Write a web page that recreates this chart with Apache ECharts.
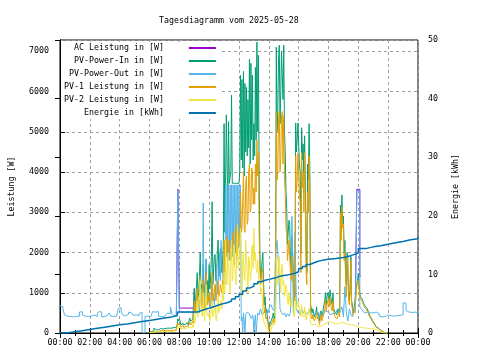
<!DOCTYPE html>
<html><head><meta charset="utf-8">
<script src="https://cdn.jsdelivr.net/npm/echarts@6/dist/echarts.min.js"></script>
<style>html,body{margin:0;padding:0;background:#fff}#c{width:480px;height:360px}</style>
</head><body><div id="c"></div>
<script>
// ---- data ----
const titleText = 'Tagesdiagramm vom 2025-05-28';
const seriesNames = ['AC Leistung in [W]','PV-Power-In in [W]','PV-Power-Out in [W]','PV-1 Leistung in [W]','PV-2 Leistung in [W]','Energie in [kWh]'];

// PV-Power-Out: 00:00-08:54 every 0.1 h
const pvOutEarly = [
 680,650,600,450,420,400,410,420,400,430,
 410,400,420,520,530,450,420,400,410,430,
 420,410,450,420,410,480,530,520,400,410,
 420,440,430,500,420,410,440,420,430,600,
 630,520,450,430,440,470,520,500,460,440,
 450,420,430,480,520,0,0,410,420,400,
 410,430,530,520,500,530,420,410,430,400,
 420,450,500,480,650,480,430,450,460,3540,
 530,520,530,510,520,530,520,510,530,520];
// PV-Power-Out: 09:00-15:57 every 0.05 h
const pvOutDay = [
 500,600,700,500,1100,700,600,500,1300,900,800,600,3230,1000,900,600,1840,900,700,800,
 1000,700,600,900,1400,800,900,700,1200,900,1700,1000,1000,1500,2000,1300,2300,1600,1500,1200,
 1500,1200,3680,1900,3680,2000,3680,1800,3680,2100,3680,1900,3680,2200,3680,2000,3680,1800,3680,2100,
 3680,2200,3680,300,400,0,500,300,0,450,450,520,500,480,480,400,400,350,450,400,
 0,300,450,0,0,500,500,450,550,600,600,450,450,500,500,550,550,600,600,500,
 500,650,650,700,700,600,600,550,550,2000,2000,2300,2300,1700,1700,600,600,500,500,450,
 450,500,500,400,400,480,480,420,420,500,500,2900,2900,500,500,2500,2500,600,600,500];
// PV-Power-Out: 16:00-24:00 every 0.1 h
const pvOutLate = [
 500,450,600,500,550,480,520,600,500,450,
 480,500,450,520,400,450,480,500,550,520,
 500,450,480,520,500,480,600,500,550,650,
 400,1150,500,300,600,450,400,550,500,3540,
 3540,650,600,550,500,520,480,500,470,500,
 520,520,500,480,420,400,420,410,430,450,
 420,430,440,420,410,430,420,440,430,450,
 750,740,560,520,500,510,500,520,480,500,
 520];

// PV-Power-In, PV-1, PV-2: 06:00-21:57 every 0.05 h
const pvIn = [
 20,30,40,50,60,40,120,90,80,70,60,80,90,100,110,90,80,100,100,90,
 110,100,90,120,130,110,120,140,150,120,110,130,140,150,160,140,180,200,350,300,
 350,300,200,240,250,200,180,210,220,240,260,230,200,300,370,300,280,330,370,300,
 1100,700,800,1200,1500,900,1000,1400,2000,1100,1200,800,1700,1000,1000,1300,1840,900,1300,1000,
 1700,1100,1400,1900,3260,1200,1600,1900,1950,1300,1500,2000,2310,1400,1700,2100,2000,1500,1800,2200,
 5200,2500,3720,5420,5420,3000,5250,3720,3720,4000,5910,3720,3720,3720,3720,3720,3720,3720,3720,3720,
 3720,4000,6400,4300,6300,4100,6500,3900,6200,4500,6100,4400,5800,4600,6800,4200,6700,4800,6400,4300,
 5200,4400,6600,4800,7230,5000,6900,4000,2000,1300,1500,1800,2000,1200,700,900,500,600,400,300,
 80,200,200,300,300,400,500,350,400,600,7100,5000,5500,6800,7150,5200,6000,7000,7000,5800,
 7150,5000,4500,3500,3100,2200,2200,2800,2700,1800,1600,2400,2000,1300,1100,900,5220,4500,4800,5220,
 5220,4200,4000,2000,5100,4300,4700,3800,4900,3500,2000,1500,4200,3800,5200,4000,700,600,500,600,
 600,400,400,500,650,450,500,400,300,500,550,400,450,600,700,800,1000,700,900,1000,
 1000,800,1070,900,800,700,1000,600,600,500,500,450,450,600,600,500,3180,2500,3430,2800,
 2900,2000,2300,1500,1200,2000,2000,900,800,1200,1900,800,700,500,600,700,900,1100,1200,1300,
 1490,1200,990,900,900,850,800,750,700,680,650,620,600,550,500,450,400,380,350,320,
 280,250,220,180,150,140,120,100,80,70,60,40,30,20,10,5,0,0,0,0];
const pv1 = [
 10,10,20,20,30,20,60,50,40,30,30,40,50,60,60,40,40,50,50,50,
 60,50,50,70,70,60,60,70,80,60,60,70,70,80,90,80,100,120,250,200,
 250,200,150,160,180,150,130,150,170,180,200,170,150,220,280,200,200,250,300,220,
 800,500,500,900,1100,600,700,1000,1400,800,800,600,1300,700,600,900,1500,700,900,800,
 1000,700,800,1200,1500,800,900,1100,1200,800,800,1100,1300,900,1000,1200,1100,1000,1300,1100,
 2300,1500,1500,2200,2400,1800,1800,2300,2300,1800,2000,2300,2500,1800,1700,2400,2600,1900,2000,2500,
 2400,2200,3500,2500,2600,3300,4000,2600,2500,3700,3900,2700,2800,4000,4200,3000,3100,4100,4000,3200,
 3600,3200,4200,3500,4800,3900,4500,2500,1600,1200,1200,1600,1500,900,500,600,350,400,300,250,
 40,150,150,200,200,300,350,250,300,400,5500,3800,4000,5300,5500,4000,4300,5400,5500,4200,
 5400,3800,3500,2600,2500,1800,1800,2300,2300,1500,1300,1900,1700,1100,900,800,4400,3500,3800,4480,
 4500,3400,3300,1500,4480,3600,4000,3000,4480,3000,1500,1200,3500,3000,4400,3500,500,400,350,450,
 450,300,300,400,500,350,400,300,200,350,450,300,350,450,500,600,800,550,700,800,
 850,650,900,700,600,550,800,500,500,400,400,350,350,450,500,400,2980,2300,3140,2600,
 2700,1800,1990,1300,900,1700,1900,800,700,1000,1810,700,600,450,500,600,700,900,1200,1250,
 1300,1100,900,850,850,800,750,700,650,620,600,570,550,500,450,420,380,350,320,290,
 250,220,200,170,140,120,110,90,70,60,50,35,25,15,5,0,0,0,0,0];
const pv2 = [
 10,10,10,10,20,20,40,30,30,20,20,30,30,40,40,30,30,30,30,30,
 40,30,30,40,40,30,40,40,50,40,40,50,50,60,60,50,60,80,150,120,
 150,120,100,110,120,100,90,100,110,120,130,110,100,150,180,130,120,160,200,140,
 400,250,250,600,800,400,400,900,1300,600,600,400,1000,500,300,700,1200,500,500,400,
 500,300,300,600,800,400,400,600,700,350,300,700,900,500,500,700,800,600,1200,800,
 1500,1000,2300,1300,1200,1900,2000,1200,1000,1800,2300,1300,1500,2200,2100,1300,1200,2000,2700,1600,
 1600,2000,2600,1700,900,1800,2000,1400,1300,2300,2300,1500,1000,1900,1800,1300,1400,2100,2200,1600,
 2600,1800,2000,1600,1500,1800,1500,1200,1300,1000,1100,900,400,300,250,200,200,150,150,100,
 20,50,60,100,150,200,250,200,200,300,1860,1300,1200,1800,1900,1400,1000,1600,1700,1200,
 1300,900,900,1200,1100,800,700,1000,1000,700,650,900,900,500,400,600,800,600,700,800,
 800,600,600,400,700,500,500,400,650,500,320,300,500,450,600,500,250,230,200,220,
 220,200,180,200,200,180,150,170,170,200,200,190,180,200,220,200,250,260,280,270,
 280,260,250,270,260,240,240,250,250,230,230,220,220,240,250,260,270,260,260,250,
 250,240,240,230,220,220,230,210,200,210,210,200,190,190,180,170,170,160,160,150,
 150,145,140,135,130,130,130,125,120,120,120,120,120,115,110,110,110,105,100,100,
 100,95,90,85,80,70,60,50,40,20,0,0,0,0,0,0,0,0,0,0];

// AC Leistung (only where it shows above the other lines)
const acHours  = [7.8, 7.9, 8.0, 9.0, 9.05, 19.8, 19.9, 20.1, 20.15];
const acValues = [460, 3570, 620, 1100, null, 800, 3570, 1400, null];

// Energie [kWh]
const energyHours = [0,0.5,1,1.5,2,2.5,3,3.5,4,4.5,5,5.5,6,6.5,7,7.5,7.85,7.9,9.0,9.25,9.5,9.75,10,10.25,10.5,10.75,11,11.25,11.5,11.75,12,12.25,12.5,12.75,13,13.25,13.5,13.75,14,14.25,14.5,14.75,15,15.25,15.5,15.75,16,16.25,16.5,16.75,17,17.25,17.5,17.75,18,18.5,19,19.5,19.85,20.0,20.5,21,21.5,22,22.5,23,23.5,24];
const energyValues = [0,0.2,0.4,0.6,0.8,1.0,1.2,1.4,1.55,1.75,1.95,2.15,2.35,2.55,2.75,2.95,3.1,3.6,3.6,3.85,4.05,4.25,4.45,4.65,4.85,5.05,5.2,5.45,5.8,6.2,6.6,7.15,7.7,8.0,8.4,8.75,9.0,9.15,9.3,9.45,9.7,9.8,9.9,10.05,10.2,10.45,11.0,11.35,11.7,11.95,12.2,12.35,12.5,12.6,12.7,12.9,13.2,13.5,13.7,14.4,14.7,14.9,15.15,15.4,15.6,15.9,16.1,16.35];

// ---- build ----
const colors = ['#9400d3','#009e73','#56b4e9','#e69f00','#f0e442','#0072b2'];
const mono = '"DejaVu Sans Mono", monospace';
const fs = 8.3;
function sampled(start, step, vals){ return vals.map((v,i)=>[Math.round((start+i*step)*100)/100, v]); }
function pairs(xs, ys){ return xs.map((x,i)=>[x, ys[i]]); }
const seriesData = [
  pairs(acHours, acValues),
  sampled(6, 0.05, pvIn),
  sampled(0, 0.1, pvOutEarly).concat(sampled(9, 0.05, pvOutDay), sampled(16, 0.1, pvOutLate)),
  sampled(6, 0.05, pv1),
  sampled(6, 0.05, pv2),
  pairs(energyHours, energyValues)
];
const pad2 = n => (n<10?'0':'')+n;
const dash = {color:'#a0a0a0', type:[3,3], width:1};
const tickStyle = {color:'#000', width:1};
const labelText = {fontFamily:mono, fontSize:fs, color:'#000'};

const chart = echarts.init(document.getElementById('c'), null, {renderer:'canvas'});
chart.setOption({
  animation:false,
  backgroundColor:'#fff',
  title:{text:titleText, left:154, top:12, textStyle:{fontFamily:mono, fontSize:fs, fontWeight:'normal', color:'#000'}},
  grid:{left:58, right:62, top:40, bottom:27, show:true, borderColor:'#000', borderWidth:1},
  graphic:[{type:'rect', silent:true, z:1, shape:{x:61, y:42, width:161, height:77}, style:{fill:'#fff'}}],
  legend:{
    orient:'vertical', left:59, top:42, padding:[1,5,1,5],
    align:'right', icon:'rect', itemWidth:27, itemHeight:2, itemGap:3,
    selectedMode:false, data:seriesNames,
    textStyle:Object.assign({lineHeight:10}, labelText),
    formatter: n => n.padStart(20,' ') + '    '
  },
  xAxis:[{
    type:'value', min:0, max:24, interval:2, position:'bottom',
    axisLine:{lineStyle:{color:'#000'}},
    axisTick:{inside:true, length:5, lineStyle:tickStyle},
    minorTick:{show:true, splitNumber:2, length:3, lineStyle:tickStyle},
    splitLine:{show:true, lineStyle:dash},
    axisLabel:Object.assign({margin:6, formatter:v=>pad2(v%24)+':00'}, labelText)
  },{
    type:'value', min:0, max:24, interval:2, position:'top',
    axisLine:{lineStyle:{color:'#000'}},
    axisTick:{inside:true, length:5, lineStyle:tickStyle},
    minorTick:{show:true, splitNumber:2, length:3, lineStyle:tickStyle},
    splitLine:{show:false}, axisLabel:{show:false}
  }],
  yAxis:[{
    type:'value', min:0, max:7280, interval:1000, position:'left',
    name:'Leistung [W]', nameLocation:'middle', nameRotate:90, nameGap:44,
    nameTextStyle:labelText,
    axisLine:{show:true, lineStyle:{color:'#000'}},
    axisTick:{show:true, inside:true, length:5, lineStyle:tickStyle},
    splitLine:{show:true, lineStyle:dash},
    axisLabel:Object.assign({margin:11, showMaxLabel:false, formatter:v=>String(v)}, labelText)
  },{
    type:'value', min:0, max:50, interval:10, position:'right',
    name:'Energie [kWh]', nameLocation:'middle', nameRotate:90, nameGap:34,
    nameTextStyle:labelText,
    axisLine:{show:true, lineStyle:{color:'#000'}},
    axisTick:{show:true, inside:true, length:5, lineStyle:tickStyle},
    splitLine:{show:false},
    axisLabel:Object.assign({margin:10, formatter:v=>String(v)}, labelText)
  }],
  series: seriesNames.map((name,i)=>({
    name, type:'line', step:'end', showSymbol:false, symbol:'none',
    xAxisIndex:0, yAxisIndex: i===5 ? 1 : 0,
    data: seriesData[i], connectNulls:false,
    color: colors[i], lineStyle:{width: i===5 ? 1.5 : 1, color:colors[i]},
    emphasis:{disabled:true}, z:2+i
  }))
});
</script></body></html>
